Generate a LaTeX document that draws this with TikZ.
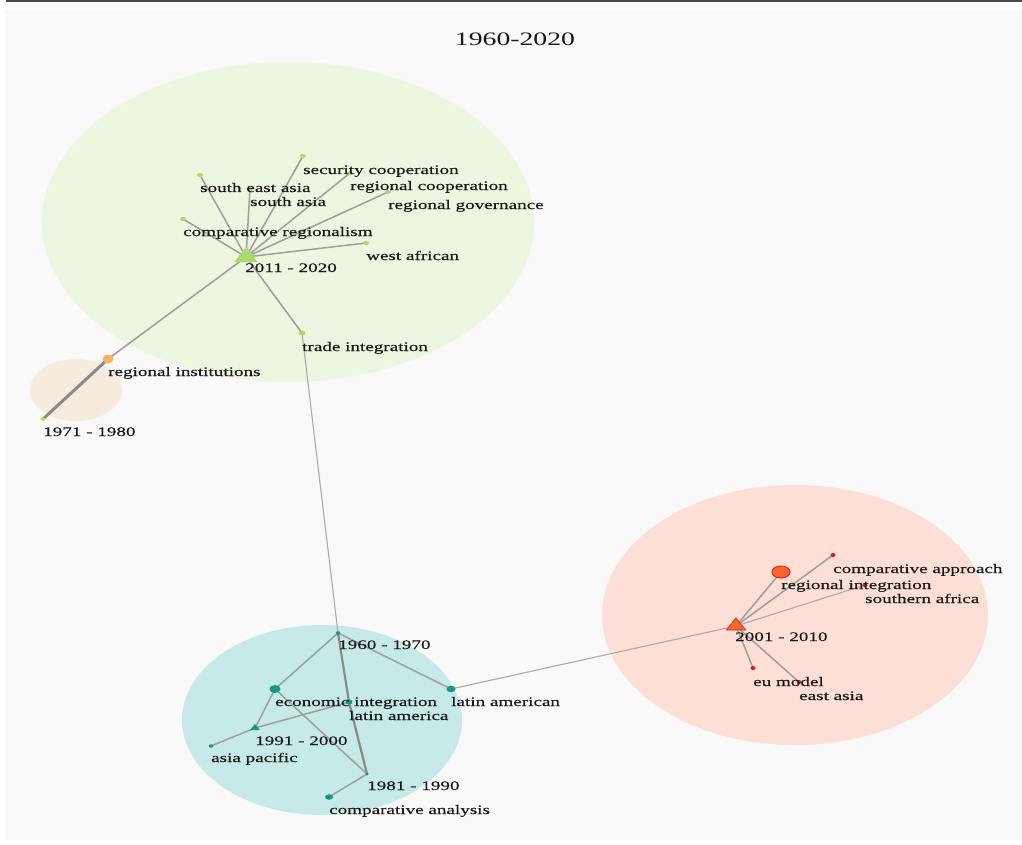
\documentclass[tikz,border=0pt]{standalone}
\usepackage{fontspec}
\setmainfont{Liberation Serif}[FakeStretch=1.46]
\newfontfamily\lblfont{Liberation Serif}[FakeStretch=1.47, FakeBold=0.4]
\usetikzlibrary{shapes.geometric}
\pgfdeclarelayer{bglayer}
\pgfdeclarelayer{edgelayer}
\pgfsetlayers{bglayer,edgelayer,main}
\definecolor{bgc}{HTML}{F9F9F9}
\definecolor{topl}{HTML}{4A4A4A}
\definecolor{gell}{HTML}{EDF6DF}
\definecolor{oell}{HTML}{F6ECDE}
\definecolor{cell}{HTML}{C6EAE7}
\definecolor{rell}{HTML}{FDDFD5}
\definecolor{gnode}{HTML}{B2D964}
\definecolor{gtri}{HTML}{A9DA6C}
\definecolor{tnode}{HTML}{17987C}
\definecolor{rdot}{HTML}{E5161C}
\definecolor{rfill}{HTML}{F2682E}
\definecolor{rline}{HTML}{E42A1C}
\definecolor{onode}{HTML}{F6B166}
\definecolor{ynode}{HTML}{D6CF22}
\definecolor{edgec}{HTML}{9E9E9E}
\definecolor{edgedark}{HTML}{8A8A8A}
\definecolor{edgelight}{HTML}{ABABAB}
\definecolor{txt}{HTML}{1A1A1A}
\tikzset{
  dot/.style={ellipse, inner sep=0pt, draw=none},
  tri/.style={regular polygon, regular polygon sides=3, inner sep=0pt},
  lbl/.style={anchor=base west, inner sep=0pt, text=txt, font=\lblfont\fontsize{13}{15}\selectfont},
  edge/.style={draw=edgec, line width=1.5pt},
  thinedge/.style={draw=edgelight, line width=1.1pt},
  thickedge/.style={draw=edgedark, line width=2.2pt},
}
\begin{document}
\begin{tikzpicture}[x=1pt,y=-1pt]
\useasboundingbox (0,0) rectangle (1022,845);
\begin{pgfonlayer}{bglayer}
\fill[white] (0,0) rectangle (1022,845);
\fill[bgc] (5,10) rectangle (1022,840);
\draw[topl, line width=2pt] (6,1) -- (1022,1);
\fill[gell] (288,222) ellipse [x radius=246, y radius=160];
\fill[oell] (76,390) ellipse [x radius=46, y radius=31];
\fill[cell] (322,720) ellipse [x radius=140, y radius=95];
\fill[rell] (795,615) ellipse [x radius=193, y radius=130];
\end{pgfonlayer}

\node[anchor=base, inner sep=0pt, text=txt, font=\fontsize{19}{22}\selectfont] (title) at (515,46) {1960-2020};

% green cluster
\path (246,257) node[tri, fill=gtri, minimum size=20pt, xscale=1.35] (t11) {};
\path (200,175) node[dot, fill=gnode, minimum width=6pt, minimum height=4pt] (sea) {};
\path (250,189) node[dot, fill=gnode, minimum width=6pt, minimum height=4pt] (sa) {};
\path (303,156) node[dot, fill=gnode, minimum width=6pt, minimum height=4pt] (sec) {};
\path (350,173) node[dot, fill=gnode, minimum width=6pt, minimum height=4pt] (rc) {};
\path (388,192) node[dot, fill=gnode, minimum width=6pt, minimum height=4pt] (rg) {};
\path (183,219) node[dot, fill=gnode, minimum width=6pt, minimum height=4pt] (cr) {};
\path (366,243) node[dot, fill=gnode, minimum width=6pt, minimum height=4pt] (wa) {};
\path (302,333) node[dot, fill=gnode, minimum width=7pt, minimum height=5pt] (ti) {};
\path (108,359) node[dot, fill=onode, minimum width=11pt, minimum height=9pt] (ri) {};
\path (43,419) node[dot, fill=ynode, minimum width=5pt, minimum height=3.5pt] (y71) {};

% teal cluster
\path (338,633) node[dot, fill=tnode, minimum width=4.5pt, minimum height=3.5pt] (c60) {};
\path (275,689) node[dot, fill=tnode, minimum width=11pt, minimum height=8pt] (ei) {};
\path (349,702) node[dot, fill=tnode, minimum width=7pt, minimum height=5pt] (la) {};
\path (451,689) node[dot, fill=tnode, minimum width=9pt, minimum height=6.5pt] (lan) {};
\path (255,728) node[tri, fill=tnode, minimum size=8pt, xscale=1.4] (c91) {};
\path (211,746) node[dot, fill=tnode, minimum width=4.5pt, minimum height=3.5pt] (ap) {};
\path (367,774) node[dot, fill=tnode, minimum width=3.5pt, minimum height=3pt] (c81) {};
\path (329,797) node[dot, fill=tnode, minimum width=8pt, minimum height=5.5pt] (ca) {};

% red cluster
\path (736,626) node[tri, fill=rfill, draw=rline, line width=0.8pt, minimum size=16pt, xscale=1.4] (r01) {};
\path (781,572) node[dot, fill=rfill, draw=rline, line width=1pt, minimum width=18pt, minimum height=12pt] (rint) {};
\path (833,555) node[dot, fill=rdot, minimum width=5pt, minimum height=4pt] (capp) {};
\path (865,585) node[dot, fill=rdot, minimum width=5pt, minimum height=4pt] (saf) {};
\path (753,668) node[dot, fill=rdot, minimum width=5pt, minimum height=4pt] (eu) {};
\path (799,682) node[dot, fill=rdot, minimum width=5pt, minimum height=4pt] (eas) {};

% edges
\begin{pgfonlayer}{edgelayer}
\foreach \n in {sea,sa,sec,rc,rg,cr,wa,ti,ri}
  \draw[edge] (t11.center) -- (\n.center);
\draw[draw=edgedark, line width=3pt] (ri.center) -- (y71.center);
\draw[thinedge] (ti.center) -- (c60.center);
\draw[edge] (c60.center) -- (ei.center);
\draw[edge] (c60.center) -- (lan.center);
\draw[thickedge] (c60.center) -- (la.center);
\draw[thickedge] (la.center) -- (c81.center);
\draw[edge] (ei.center) -- (c91.center);
\draw[edge] (ei.center) -- (c81.center);
\draw[edge] (ap.center) -- (c91.center);
\draw[edge] (c91.center) -- (la.center);
\draw[edge] (c81.center) -- (ca.center);
\draw[thinedge] (lan.center) -- (r01.center);
\foreach \n in {rint,capp,eu,eas}
  \draw[edge] (r01.center) -- (\n.center);
\draw[thinedge] (r01.center) -- (saf.center);
\end{pgfonlayer}

% labels
\node[lbl] (l-sec) at (303,174) {security cooperation};
\node[lbl] (l-sea) at (200,192) {south east asia};
\node[lbl] (l-rc) at (350,190) {regional cooperation};
\node[lbl] (l-sa) at (250,206) {south asia};
\node[lbl] (l-rg) at (388,209) {regional governance};
\node[lbl] (l-cr) at (183,236) {comparative regionalism};
\node[lbl] (l-wa) at (366,260) {west african};
\node[lbl] (l-t11) at (245,272) {2011 - 2020};
\node[lbl] (l-ti) at (302,351) {trade integration};
\node[lbl] (l-ri) at (108,376) {regional institutions};
\node[lbl] (l-71) at (43,436) {1971 - 1980};

\node[lbl] (l-60) at (338,649) {1960 - 1970};
\node[lbl] (l-ei) at (275,706) {economic integration};
\node[lbl] (l-lan) at (451,706) {latin american};
\node[lbl] (l-la) at (349,720) {latin america};
\node[lbl] (l-91) at (255,745) {1991 - 2000};
\node[lbl] (l-ap) at (211,762) {asia pacific};
\node[lbl] (l-81) at (367,790) {1981 - 1990};
\node[lbl] (l-ca) at (329,814) {comparative analysis};

\node[lbl] (l-capp) at (833,573) {comparative approach};
\node[lbl] (l-rint) at (781,589) {regional integration};
\node[lbl] (l-saf) at (865,603) {southern africa};
\node[lbl] (l-r01) at (735,641) {2001 - 2010};
\node[lbl] (l-eu) at (753,686) {eu model};
\node[lbl] (l-eas) at (799,700) {east asia};
\end{tikzpicture}
\end{document}
